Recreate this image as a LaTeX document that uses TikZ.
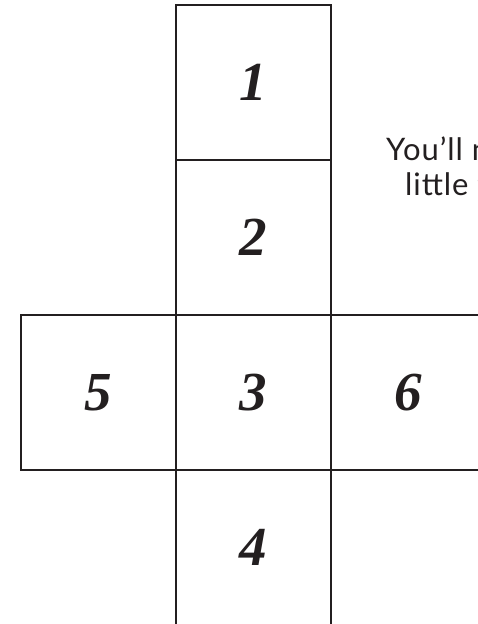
\documentclass[tikz,border=0pt]{standalone}
\usepackage{fontspec}
\setmainfont{Liberation Serif}
\newfontfamily\notefont[LetterSpace=3]{Lato}
\definecolor{inkgray}{HTML}{231F20}
\tikzset{
  face/.style={draw=inkgray, line width=1.6pt, minimum size=155pt, inner sep=0pt, text=inkgray,
               font=\fontsize{55}{55}\selectfont\bfseries\itshape},
  note/.style={anchor=base west, inner sep=0pt, text=inkgray,
               font=\notefont\fontsize{31}{35}\selectfont},
}
\begin{document}
\begin{tikzpicture}[x=1pt, y=-1pt]
    \useasboundingbox (0,0) rectangle (477,624);
    \node[face] (f1) at (253.5,82.5) {1};
    \node[face] (f2) at (253.5,237.5) {2};
    \node[face] (f3) at (253.5,392.5) {3};
    \node[face] (f4) at (253.5,547.5) {4};
    \node[face] (f5) at (98.5,392.5) {5};
    \node[face] (f6) at (408.5,392.5) {6};
    \node[note] (l1) at (386,160) {You’ll n};
    \node[note] (l2) at (405,195) {little t};
  \end{tikzpicture}
\end{document}
